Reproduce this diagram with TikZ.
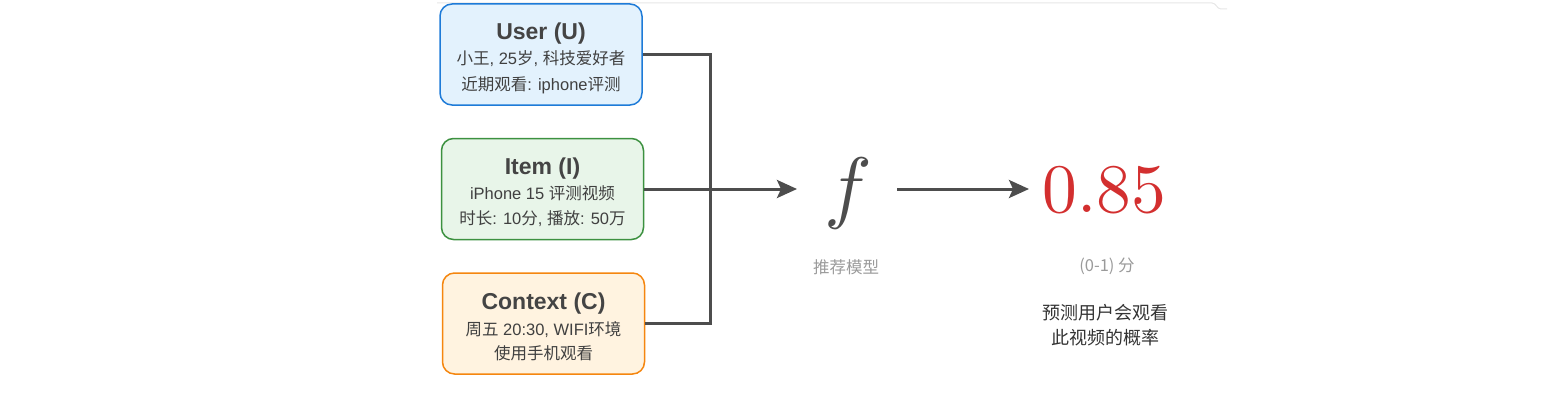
\documentclass[tikz,border=0pt]{standalone}
\usepackage{fontspec}
\setmainfont{Liberation Sans}
\newfontfamily\cjk{Noto Sans CJK SC}
\usetikzlibrary{arrows.meta,calc}
\definecolor{ublue}{HTML}{1E7BD8}
\definecolor{ubluefill}{HTML}{E3F2FD}
\definecolor{igreen}{HTML}{3C9140}
\definecolor{igreenfill}{HTML}{E8F5E9}
\definecolor{corange}{HTML}{F5860F}
\definecolor{corangefill}{HTML}{FFF3E0}
\definecolor{linegray}{HTML}{4D4D4D}
\definecolor{titlegray}{HTML}{444444}
\definecolor{bodygray}{HTML}{404040}
\definecolor{descgray}{HTML}{333333}
\definecolor{lightgray}{HTML}{9A9A9A}
\definecolor{scorered}{HTML}{D32F2F}
\definecolor{framegray}{HTML}{E6E6E6}
\newcommand\zh[1]{{\cjk #1}}
\begin{document}
\begin{tikzpicture}[x=1pt,y=-1pt,
  box/.style={draw, rounded corners=12pt, line width=1.5pt, minimum width=202pt, minimum height=101pt, inner sep=0pt},
  titletext/.style={anchor=base, inner sep=0pt, text=titlegray, font=\fontsize{23}{26}\selectfont\bfseries},
  bodytext/.style={anchor=base, inner sep=0pt, text=bodygray, font=\fontsize{16.5}{20}\selectfont},
  conn/.style={draw=linegray, line width=3pt},
  arr/.style={conn, -{Stealth[length=20pt,width=18pt,inset=4pt]}},
  note/.style={anchor=base, inner sep=0pt, text=lightgray, font=\fontsize{16.5}{20}\selectfont\cjk},
  desc/.style={anchor=base, inner sep=0pt, text=descgray, font=\fontsize{18}{22}\selectfont\cjk},
]
\useasboundingbox (0,0) rectangle (1560,404);
% faint frame edge at top
\draw[framegray, line width=1pt] (437,3) -- (1212,3) to[out=0,in=180] (1221,9) -- (1227,9);

% boxes
\node[box, draw=ublue, fill=ubluefill] (u) at (541,54.5) {};
\node[box, draw=igreen, fill=igreenfill] (i) at (542.5,189) {};
\node[box, draw=corange, fill=corangefill] (c) at (543.5,323.5) {};

% user texts
\node[titletext] (ut) at (541,40) {User (U)};
\node[bodytext] (u1) at (541,65) {\zh{小王}, 25\zh{岁}, \zh{科技爱好者}};
\node[bodytext] (u2) at (541,90) {\zh{近期观看}: iphone\zh{评测}};
% item texts
\node[titletext] (it) at (542.5,174) {Item (I)};
\node[bodytext] (i1) at (542.5,199.5) {iPhone 15 \zh{评测视频}};
\node[bodytext] (i2) at (542.5,224) {\zh{时长}: 10\zh{分}, \zh{播放}: 50\zh{万}};
% context texts
\node[titletext] (ct) at (543.5,309) {Context (C)};
\node[bodytext] (c1) at (543.5,335) {\zh{周五} 20:30, WIFI\zh{环境}};
\node[bodytext] (c2) at (543.5,359) {\zh{使用手机观看}};

% model
\node[anchor=base, inner sep=0pt, text=linegray, font=\fontsize{10}{12}\selectfont] (f) at (848,213.5) {\scalebox{8}{$f$}};
\node[note] (fl) at (846,273) {推荐模型};

% score
\node[anchor=base, inner sep=0pt, text=scorered, font=\fontsize{10}{12}\selectfont] (s) at (1104.5,212) {\scalebox{6.95}{$0.85$}};
\node[note] (sl) at (1107,271) {(0-1) \zh{分}};
\node[desc] (d1) at (1105,319.5) {预测用户会观看};
\node[desc] (d2) at (1105,344) {此视频的概率};

% connectors
\coordinate (j) at (710,189);
\coordinate (fin) at (797,189);
\coordinate (fa) at (897,189);
\coordinate (fb) at (1029,189);
\draw[conn] (u.east) -| (j);
\draw[conn] (c.east) -| (j);
\draw[arr] (i.east) -- (fin);
\draw[arr] (fa) -- (fb);
\end{tikzpicture}
\end{document}
